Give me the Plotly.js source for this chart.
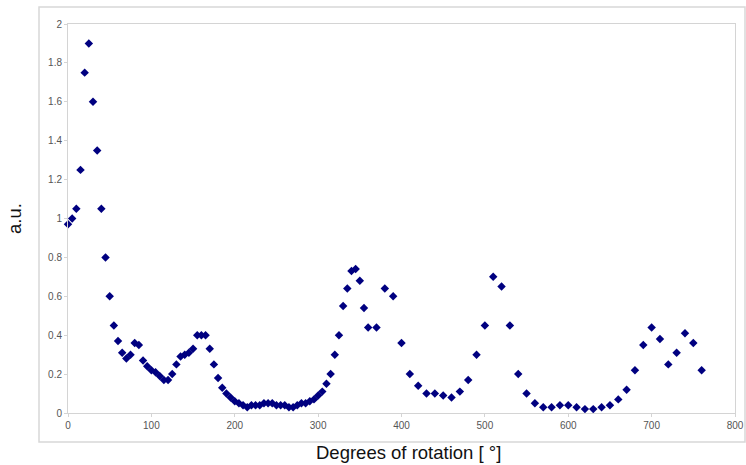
<!DOCTYPE html>
<html>
<head>
<meta charset="utf-8">
<script src="https://cdn.plot.ly/plotly-3.0.1.min.js"></script>
<style>html,body{margin:0;padding:0;background:#fff;}#chart{width:746px;height:465px;}</style>
</head>
<body>
<div id="chart"></div>
<script>
const degrees = [0,5,10,15,20,25,30,35,40,45,50,55,60,65,70,75,80,85,90,95,100,105,110,115,120,125,130,135,140,145,150,155,160,165,170,175,180,185,190,195,200,205,210,215,220,225,230,235,240,245,250,255,260,265,270,275,280,285,290,295,300,305,310,315,320,325,330,335,340,345,350,355,360,370,380,390,400,410,420,430,440,450,460,470,480,490,500,510,520,530,540,550,560,570,580,590,600,610,620,630,640,650,660,670,680,690,700,710,720,730,740,750,760];
const intensity = [0.97,1.0,1.05,1.25,1.75,1.9,1.6,1.35,1.05,0.8,0.6,0.45,0.37,0.31,0.28,0.30,0.36,0.35,0.27,0.24,0.22,0.21,0.19,0.17,0.17,0.20,0.25,0.29,0.30,0.31,0.33,0.40,0.40,0.40,0.33,0.25,0.18,0.13,0.10,0.08,0.06,0.05,0.04,0.03,0.04,0.04,0.04,0.05,0.05,0.05,0.04,0.04,0.04,0.03,0.03,0.04,0.05,0.05,0.06,0.07,0.09,0.11,0.15,0.20,0.30,0.40,0.55,0.64,0.73,0.74,0.68,0.54,0.44,0.44,0.64,0.60,0.36,0.20,0.14,0.10,0.10,0.09,0.08,0.11,0.17,0.30,0.45,0.70,0.65,0.45,0.20,0.10,0.05,0.03,0.03,0.04,0.04,0.03,0.02,0.02,0.03,0.04,0.07,0.12,0.22,0.35,0.44,0.38,0.25,0.31,0.41,0.36,0.22];
const xTicks = [0,100,200,300,400,500,600,700,800];
const yTicks = [0,0.2,0.4,0.6,0.8,1,1.2,1.4,1.6,1.8,2];
const yTickText = ['0','0.2','0.4','0.6','0.8','1','1.2','1.4','1.6','1.8','2'];

const trace = {
  x: degrees, y: intensity, type: 'scatter', mode: 'markers',
  marker: {symbol: 'diamond', size: 6.5, color: '#000080'},
  cliponaxis: false, hoverinfo: 'x+y'
};
const axisCommon = {
  showgrid: false, zeroline: false, showline: true, mirror: true,
  linecolor: '#d4d4d4', linewidth: 1, ticks: 'outside', ticklen: 3,
  tickcolor: '#d4d4d4', tickfont: {family: 'Liberation Sans, Arial, sans-serif', size: 10, color: '#555'}
};
const layout = {
  width: 746, height: 465,
  margin: {l: 68, r: 11, t: 24, b: 52},
  paper_bgcolor: '#fff', plot_bgcolor: '#fff',
  showlegend: false,
  xaxis: Object.assign({}, axisCommon, {
    range: [0, 800], tickvals: xTicks, ticktext: xTicks.map(String)
  }),
  yaxis: Object.assign({}, axisCommon, {
    range: [0, 2], tickvals: yTicks, ticktext: yTickText,
    title: {text: 'a.u.', font: {family: 'Liberation Sans, Arial, sans-serif', size: 18.5, color: '#111'}, standoff: 21}
  }),
  annotations: [{
    text: 'Degrees of rotation [ °]', xref: 'paper', yref: 'paper',
    x: (408-68)/667, y: (413-453)/389, xanchor: 'center', yanchor: 'middle',
    showarrow: false, font: {family: 'Liberation Sans, Arial, sans-serif', size: 18.5, color: '#111'}
  }],
  shapes: [{
    type: 'rect', xref: 'paper', yref: 'paper',
    x0: (39-68)/667, x1: (745-68)/667, y0: (413-442)/389, y1: (413-7)/389,
    line: {color: '#d8d8d8', width: 1.5}, layer: 'below'
  }]
};
Plotly.newPlot('chart', [trace], layout, {staticPlot: true, displayModeBar: false});
</script>
</body>
</html>
